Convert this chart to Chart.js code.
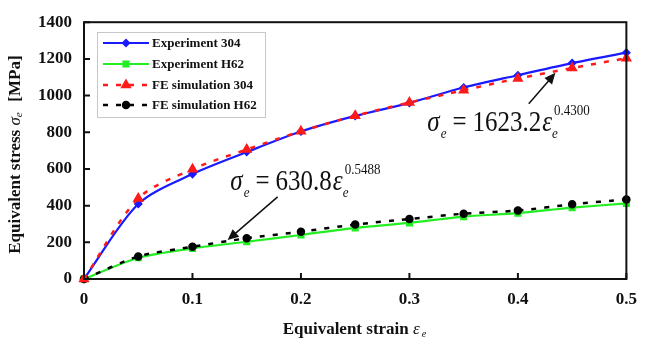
<!DOCTYPE html>
<html>
<head>
<meta charset="utf-8">
<script src="https://cdn.jsdelivr.net/npm/chart.js@4.4.1/dist/chart.umd.min.js"></script>
<style>
  html, body { margin: 0; padding: 0; background: #fff; }
</style>
</head>
<body>
<canvas id="chart" width="647" height="341"></canvas>
<script>
// values
const strain = [0, 0.05, 0.1, 0.15, 0.2, 0.25, 0.3, 0.35, 0.4, 0.45, 0.5];
const exp304 = [0, 409, 572, 692, 804, 889, 960, 1044, 1111, 1177, 1234];
const fe304 = [0, 439, 599, 706, 805, 890, 962, 1029, 1093, 1150, 1204];
const expH62 = [0, 116, 167, 203, 240, 279, 306, 340, 359, 389, 412];
const feH62 = [0, 123, 176, 222, 258, 297, 327, 356, 373, 407, 434];
const xTicks = [0, 0.1, 0.2, 0.3, 0.4, 0.5];
const yTicks = [0, 200, 400, 600, 800, 1000, 1200, 1400];

const SERIF = '"Liberation Serif", "Times New Roman", serif';
const pts = (ys) => strain.map((x, i) => ({ x: x, y: ys[i] }));

const datasets = [
  {
    label: 'Experiment 304', data: pts(exp304),
    borderColor: '#1a1aff', backgroundColor: '#1a1aff', borderWidth: 2.2,
    pointStyle: 'rectRot', pointRadius: 3, tension: 0.3, order: 2
  },
  {
    label: 'Experiment H62', data: pts(expH62),
    borderColor: '#22ee22', backgroundColor: '#22ee22', borderWidth: 2.2,
    pointStyle: 'rect', pointRadius: 3.5, tension: 0.25, order: 2
  },
  {
    label: 'FE simulation 304', data: pts(fe304),
    borderColor: '#ff1a1a', backgroundColor: '#ff1a1a', borderWidth: 2.5,
    borderDash: [5, 8], pointStyle: 'triangle', pointRadius: 4, tension: 0.3, order: 1
  },
  {
    label: 'FE simulation H62', data: pts(feH62),
    borderColor: '#000', backgroundColor: '#000', borderWidth: 2.5,
    borderDash: [5, 8], pointStyle: 'circle', pointRadius: 3, tension: 0.25, order: 1
  }
];

// formula labels, anchored in data units
const formulas = [
  { coef: '1623.2', pow: '0.4300', at: [0.3165, 805], from: [0.410, 955], to: [0.4346, 1124] },
  { coef: '630.8', pow: '0.5488', at: [0.1349, 485], from: [0.1785, 448], to: [0.1324, 212] }
];

function drawFormula(ctx, x, y, f) {
  ctx.save();
  ctx.translate(x, y);
  ctx.scale(1, 1.15);
  ctx.fillStyle = '#111';
  ctx.textBaseline = 'alphabetic';
  let cx = 0;
  ctx.font = 'italic 25px ' + SERIF;
  ctx.fillText('σ', cx, 0); cx += ctx.measureText('σ').width + 1;
  ctx.font = 'italic 13px ' + SERIF;
  ctx.fillText('e', cx, 6); cx += ctx.measureText('e').width + 6;
  ctx.font = '25px ' + SERIF;
  ctx.fillText('=', cx, 0); cx += ctx.measureText('=').width + 6;
  ctx.fillText(f.coef, cx, 0); cx += ctx.measureText(f.coef).width + 1;
  ctx.font = 'italic 25px ' + SERIF;
  ctx.fillText('ε', cx, 0); cx += ctx.measureText('ε').width;
  ctx.font = 'italic 13px ' + SERIF;
  ctx.fillText('e', cx, 6);
  ctx.font = '13px ' + SERIF;
  ctx.fillText(f.pow, cx + 2, -14);
  ctx.restore();
}

function arrow(ctx, x1, y1, x2, y2) {
  const a = Math.atan2(y2 - y1, x2 - x1);
  ctx.save();
  ctx.strokeStyle = '#111'; ctx.fillStyle = '#111'; ctx.lineWidth = 1.5;
  ctx.beginPath(); ctx.moveTo(x1, y1);
  ctx.lineTo(x2 - 8 * Math.cos(a), y2 - 8 * Math.sin(a)); ctx.stroke();
  ctx.beginPath();
  ctx.moveTo(x2, y2);
  ctx.lineTo(x2 - 11 * Math.cos(a) + 5 * Math.sin(a), y2 - 11 * Math.sin(a) - 5 * Math.cos(a));
  ctx.lineTo(x2 - 11 * Math.cos(a) - 5 * Math.sin(a), y2 - 11 * Math.sin(a) + 5 * Math.cos(a));
  ctx.closePath(); ctx.fill();
  ctx.restore();
}

const decorPlugin = {
  id: 'decor',
  beforeDraw(chart) {
    const ctx = chart.ctx;
    ctx.save(); ctx.fillStyle = '#fff';
    ctx.fillRect(0, 0, chart.width, chart.height); ctx.restore();
  },
  afterDraw(chart) {
    const ctx = chart.ctx, a = chart.chartArea;
    const xs = chart.scales.x, ys = chart.scales.y;
    ctx.save();
    // frame + inward ticks
    ctx.strokeStyle = '#111'; ctx.lineWidth = 2;
    ctx.strokeRect(a.left, a.top, a.right - a.left, a.bottom - a.top);
    ctx.beginPath();
    xTicks.forEach(v => { const px = xs.getPixelForValue(v); ctx.moveTo(px, a.bottom); ctx.lineTo(px, a.bottom - 6); });
    yTicks.forEach(v => { const py = ys.getPixelForValue(v); ctx.moveTo(a.left, py); ctx.lineTo(a.left + 6, py); });
    ctx.stroke();

    // legend box
    ctx.fillStyle = '#fff'; ctx.fillRect(97, 32, 168, 85);
    ctx.strokeStyle = '#c8c8c8'; ctx.lineWidth = 1;
    ctx.strokeRect(97.5, 32.5, 168, 85);
    const rows = [43, 64, 85, 105];
    chart.data.datasets.forEach((ds, i) => {
      const y = rows[i];
      ctx.save();
      ctx.strokeStyle = ds.borderColor; ctx.lineWidth = ds.borderWidth;
      ctx.setLineDash(ds.borderDash || []);
      ctx.beginPath(); ctx.moveTo(103, y); ctx.lineTo(149, y); ctx.stroke();
      ctx.setLineDash([]);
      ctx.fillStyle = ds.backgroundColor;
      Chart.helpers.drawPoint(ctx, { pointStyle: ds.pointStyle, radius: ds.pointRadius, borderWidth: 1, rotation: 0 }, 126, y);
      ctx.restore();
      ctx.fillStyle = '#111'; ctx.font = 'bold 13px ' + SERIF;
      ctx.textBaseline = 'middle';
      ctx.fillText(ds.label, 152, y + 1);
    });

    // formulas and arrows
    formulas.forEach(f => {
      drawFormula(ctx, xs.getPixelForValue(f.at[0]), ys.getPixelForValue(f.at[1]), f);
      arrow(ctx, xs.getPixelForValue(f.from[0]), ys.getPixelForValue(f.from[1]),
        xs.getPixelForValue(f.to[0]), ys.getPixelForValue(f.to[1]));
    });

    // axis titles
    ctx.fillStyle = '#111'; ctx.textBaseline = 'alphabetic';
    const cxT = (a.left + a.right) / 2;
    const t1 = 'Equivalent strain ';
    ctx.font = 'italic 17px ' + SERIF;
    const wEps = ctx.measureText('ε').width;
    ctx.font = 'bold 17px ' + SERIF;
    const w1 = ctx.measureText(t1).width;
    let x0 = cxT - (w1 + wEps + 8) / 2;
    ctx.fillText(t1, x0, 334);
    ctx.font = 'italic 17px ' + SERIF;
    ctx.fillText('ε', x0 + w1, 334);
    ctx.font = 'italic 10px ' + SERIF;
    ctx.fillText('e', x0 + w1 + wEps + 2, 337);

    ctx.save();
    ctx.translate(20, (a.top + a.bottom) / 2 + 4);
    ctx.rotate(-Math.PI / 2);
    ctx.font = 'bold 17px ' + SERIF;
    const p1 = 'Equivalent stress ', p2 = '  [MPa]';
    const wp1 = ctx.measureText(p1).width, wp2 = ctx.measureText(p2).width;
    ctx.font = 'italic 17px ' + SERIF;
    const wSig = ctx.measureText('σ').width;
    const total = wp1 + wSig + 7 + wp2;
    let sx = -total / 2;
    ctx.font = 'bold 17px ' + SERIF;
    ctx.fillText(p1, sx, 0); sx += wp1;
    ctx.font = 'italic 17px ' + SERIF;
    ctx.fillText('σ', sx, 0); sx += wSig;
    ctx.font = 'italic 11px ' + SERIF;
    ctx.fillText('e', sx, 2); sx += 7;
    ctx.font = 'bold 17px ' + SERIF;
    ctx.fillText(p2, sx, 0);
    ctx.restore();
    ctx.restore();
  }
};

new Chart(document.getElementById('chart'), {
  type: 'line',
  data: { datasets: datasets },
  plugins: [decorPlugin],
  options: {
    responsive: false,
    animation: false,
    layout: { padding: { left: 0, top: 16, right: 13, bottom: 0 } },
    elements: { point: { borderWidth: 0.5, hoverRadius: 3 } },
    datasets: { line: { clip: 8 } },
    plugins: { legend: { display: false }, tooltip: { enabled: false } },
    scales: {
      x: {
        type: 'linear', min: 0, max: 0.5,
        afterFit(s) { s.height = 62; },
        afterBuildTicks(s) { s.ticks = xTicks.map(v => ({ value: v })); },
        grid: { display: false, drawTicks: false },
        border: { display: false },
        ticks: {
          padding: 10, color: '#111',
          font: { family: SERIF, size: 17, weight: 'bold' },
          callback: v => String(v)
        }
      },
      y: {
        min: 0, max: 1400,
        afterFit(s) { s.width = 84; },
        afterBuildTicks(s) { s.ticks = yTicks.map(v => ({ value: v })); },
        grid: { display: false, drawTicks: false },
        border: { display: false },
        ticks: {
          padding: 12, color: '#111',
          font: { family: SERIF, size: 17, weight: 'bold' },
          callback: v => String(v)
        }
      }
    }
  }
});
</script>
</body>
</html>
